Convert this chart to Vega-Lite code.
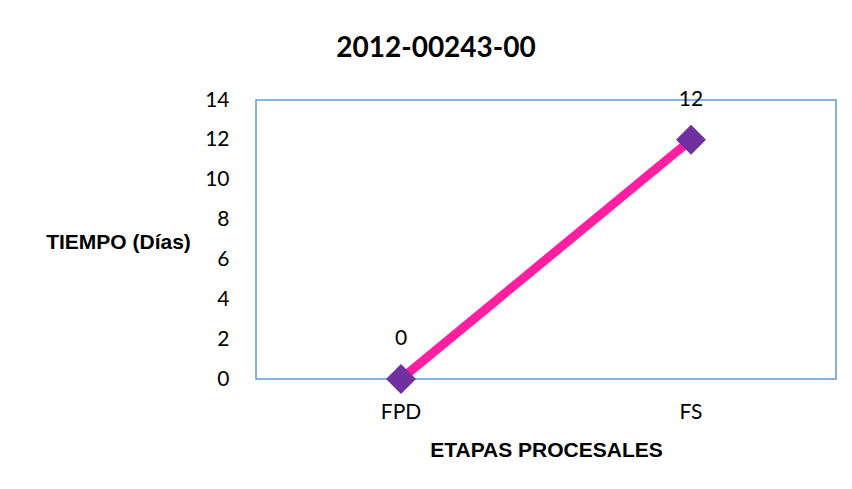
{
  "$schema": "https://vega.github.io/schema/vega-lite/v6.json",
  "width": 580,
  "height": 279,
  "autosize": "none",
  "padding": {"left": 256, "top": 100, "right": 16, "bottom": 110},
  "background": "white",
  "data": {"values": [
    {"etapa": "FPD", "dias": 0},
    {"etapa": "FS", "dias": 12}
  ]},
  "title": {
    "text": "2012-00243-00",
    "font": "Lato",
    "fontSize": 28,
    "fontWeight": "bold",
    "color": "#000000",
    "anchor": "middle",
    "frame": "group",
    "dx": -110,
    "offset": 26
  },
  "config": {
    "view": {"stroke": "#5B9BD5", "strokeWidth": 1.5}
  },
  "encoding": {
    "x": {
      "field": "etapa",
      "type": "nominal",
      "sort": ["FPD", "FS"],
      "scale": {"type": "band", "paddingInner": 0, "paddingOuter": 0},
      "axis": {
        "title": "ETAPAS PROCESALES",
        "titleFont": "Liberation Sans",
        "titleFontSize": 21,
        "titleFontWeight": "bold",
        "titleColor": "#000000",
        "titleY": 71,
        "titleBaseline": "middle",
        "labelFont": "Lato",
        "labelFontSize": 21,
        "labelColor": "#000000",
        "labelAngle": 0,
        "labelPadding": 22,
        "ticks": false,
        "domain": false,
        "grid": false
      }
    },
    "y": {
      "field": "dias",
      "type": "quantitative",
      "scale": {"domain": [0, 14], "nice": false},
      "axis": {
        "title": "TIEMPO (Días)",
        "titleFont": "Liberation Sans",
        "titleFontSize": 21,
        "titleFontWeight": "bold",
        "titleColor": "#000000",
        "titleAngle": 0,
        "titleAlign": "center",
        "titleBaseline": "middle",
        "titleX": -138,
        "titleY": 142,
        "values": [0, 2, 4, 6, 8, 10, 12, 14],
        "labelFont": "Lato",
        "labelFontSize": 21,
        "labelColor": "#000000",
        "labelPadding": 27,
        "ticks": false,
        "domain": false,
        "grid": false
      }
    }
  },
  "layer": [
    {
      "mark": {"type": "line", "color": "#FF1FA0", "strokeWidth": 9, "strokeCap": "butt"}
    },
    {
      "mark": {"type": "point", "shape": "diamond", "filled": true, "size": 900, "color": "#7030A0", "opacity": 1}
    },
    {
      "mark": {"type": "text", "font": "Lato", "fontSize": 21, "color": "#000000", "dy": -40, "baseline": "middle"},
      "encoding": {"text": {"field": "dias", "type": "quantitative"}}
    }
  ]
}
